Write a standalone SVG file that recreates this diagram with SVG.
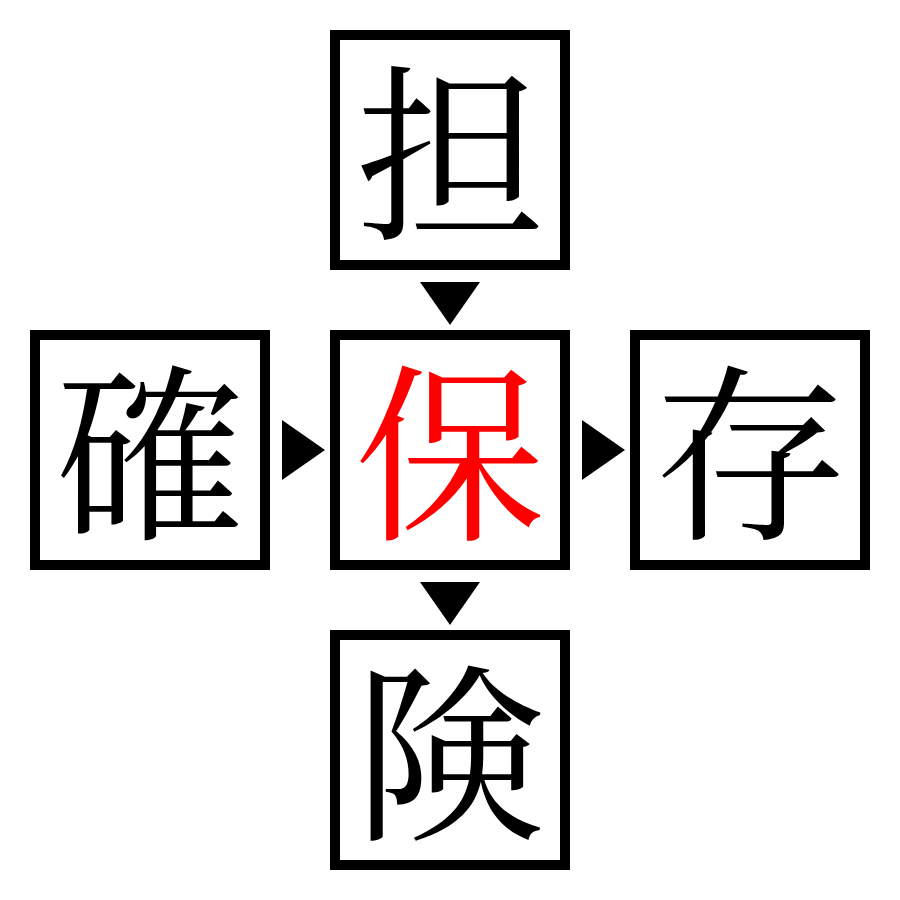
<svg xmlns="http://www.w3.org/2000/svg" width="900" height="900" viewBox="0 0 900 900">
<style>
.box{fill:#fff;stroke:#000;stroke-width:10}
.ch{font-family:"Noto Serif CJK JP","Noto Sans CJK JP",serif;font-size:190px;text-anchor:middle;dominant-baseline:central;fill:#000}
.red{fill:#ff0000}
.arr{fill:#000}
</style>
<rect width="900" height="900" fill="#fff"/>
<g id="connectors">
<polygon class="arr" points="420,282 480,282 450,325"/>
<polygon class="arr" points="282,420 282,480 325,450"/>
<polygon class="arr" points="582,420 582,480 625,450"/>
<polygon class="arr" points="420,582 480,582 450,625"/>
</g>
<g id="node-top"><rect class="box" x="335" y="35" width="230" height="230"/><text class="ch" x="450" y="142">担</text></g>
<g id="node-left"><rect class="box" x="35" y="335" width="230" height="230"/><text class="ch" x="150" y="442">確</text></g>
<g id="node-center"><rect class="box" x="335" y="335" width="230" height="230"/><text class="ch red" x="450" y="442">保</text></g>
<g id="node-right"><rect class="box" x="635" y="335" width="230" height="230"/><text class="ch" x="750" y="442">存</text></g>
<g id="node-bottom"><rect class="box" x="335" y="635" width="230" height="230"/><text class="ch" x="450" y="742">険</text></g>
</svg>
